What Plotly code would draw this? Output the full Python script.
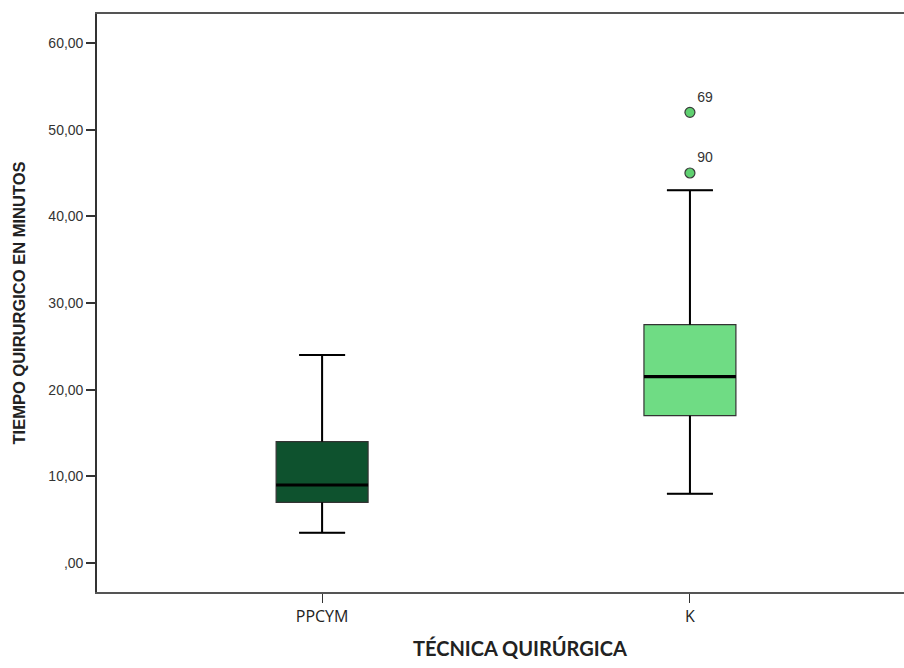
import plotly.graph_objects as go

# Summary statistics per surgical technique (minutes)
categories = ["PPCYM", "K"]
lower_fence = [3.5, 8.0]
q1 = [7.0, 17.0]
median = [9.0, 21.5]
q3 = [14.0, 27.5]
upper_fence = [24.0, 43.0]
fill_colors = ["#0e522e", "#6fdc84"]

# Outlying cases (group index, value, case id)
outlier_group = [1, 1]
outlier_value = [52.0, 45.0]
outlier_case = ["69", "90"]

y_tick_vals = [0, 10, 20, 30, 40, 50, 60]
y_tick_text = [",00", "10,00", "20,00", "30,00", "40,00", "50,00", "60,00"]

box_width = 0.25
cap_half = box_width / 4

fig = go.Figure()

for i, cat in enumerate(categories):
    fig.add_trace(go.Box(
        x=[i], q1=[q1[i]], median=[median[i]], q3=[q3[i]],
        lowerfence=[lower_fence[i]], upperfence=[upper_fence[i]],
        width=box_width, whiskerwidth=0.5,
        fillcolor=fill_colors[i],
        line=dict(color="#333333", width=1.2),
        boxpoints=False, hoverinfo="skip", showlegend=False, name=cat,
    ))
    # whiskers and caps drawn heavier than the box outline
    wx = [i, i, None, i, i, None,
          i - cap_half, i + cap_half, None, i - cap_half, i + cap_half]
    wy = [lower_fence[i], q1[i], None, q3[i], upper_fence[i], None,
          lower_fence[i], lower_fence[i], None, upper_fence[i], upper_fence[i]]
    fig.add_trace(go.Scatter(
        x=wx, y=wy, mode="lines", line=dict(color="black", width=2),
        hoverinfo="skip", showlegend=False,
    ))
    # median bar
    fig.add_trace(go.Scatter(
        x=[i - box_width / 2, i + box_width / 2], y=[median[i], median[i]],
        mode="lines", line=dict(color="black", width=3.2),
        hoverinfo="skip", showlegend=False,
    ))

fig.add_trace(go.Scatter(
    x=outlier_group, y=outlier_value, mode="markers+text",
    text=outlier_case, textposition="top right",
    textfont=dict(family="Liberation Sans", size=14, color="#333333"),
    marker=dict(size=10, color="#5fd070", line=dict(color="#3a3a3a", width=1.2)),
    hoverinfo="skip", showlegend=False,
))

fig.update_layout(
    width=904, height=668,
    margin=dict(l=97, r=0, t=14, b=76),
    paper_bgcolor="white", plot_bgcolor="white",
    font=dict(family="Liberation Sans", color="#333333"),
    xaxis=dict(
        range=[-0.612, 1.582],
        tickvals=[0, 1], ticktext=categories,
        ticks="outside", ticklen=9, tickwidth=1.2, tickcolor="#333333",
        tickfont=dict(family="Open Sans", size=16, color="#222222"),
        showgrid=False, zeroline=False,
        showline=True, linecolor="#555555", linewidth=1.6, mirror=True,
    ),
    yaxis=dict(
        range=[-3.35, 63.35],
        tickvals=y_tick_vals, ticktext=y_tick_text,
        ticks="outside", ticklen=9, tickwidth=1.6, tickcolor="#333333",
        tickfont=dict(family="Liberation Sans", size=14, color="#333333"),
        showgrid=False, zeroline=False,
        showline=True, linecolor="#333333", linewidth=1.6,
        title=dict(text="<b>TIEMPO QUIRURGICO EN MINUTOS</b>",
                   font=dict(family="Liberation Sans", size=16.5, color="#222222"),
                   standoff=19),
    ),
    annotations=[dict(
        text="<b>TÉCNICA QUIRÚRGICA</b>", x=520, y=648,
        xref="paper", yref="paper", showarrow=False,
        font=dict(family="Lato", size=20, color="#222222"),
    )],
)

# place the x-axis title in pixel terms relative to the paper
ann = fig.layout.annotations[0]
plot_w = 904 - 97
plot_h = 668 - 14 - 76
ann.x = (520 - 97) / plot_w
ann.y = (592 - 648) / plot_h
ann.xanchor = "center"
ann.yanchor = "middle"

fig.write_html("out.html")
